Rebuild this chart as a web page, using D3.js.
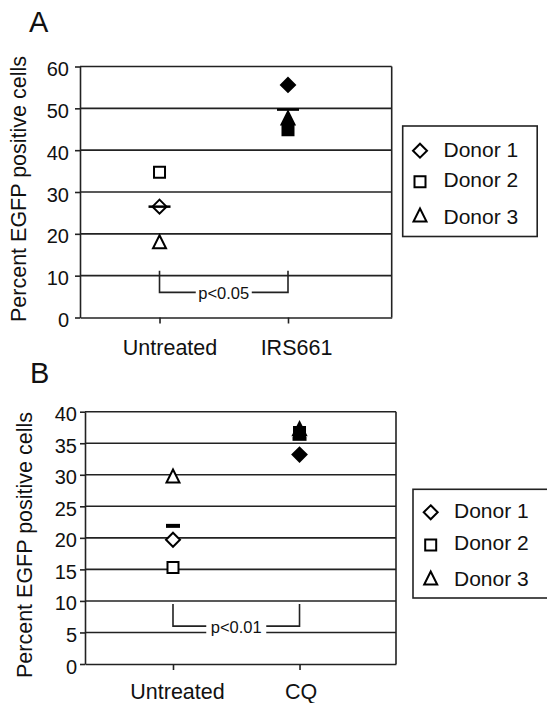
<!DOCTYPE html>
<html>
<head>
<meta charset="utf-8">
<script src="https://cdn.jsdelivr.net/npm/d3@7"></script>
<style>
  body { margin: 0; background: #fff; }
  text { font-family: "Liberation Sans", Arial, sans-serif; fill: #111; }
</style>
</head>
<body>
<script>
// data
var donors = ["Donor 1", "Donor 2", "Donor 3"];

var categoriesA = ["Untreated", "IRS661"];
var untreatedA = [26.5, 34.7, 18.1];
var irs661A = [55.6, 44.9, 47.7];
var meansA = [26.5, 49.7];
var ticksA = [0, 10, 20, 30, 40, 50, 60];

var categoriesB = ["Untreated", "CQ"];
var untreatedB = [19.7, 15.3, 29.8];
var cqB = [33.2, 36.7, 37.3];
var meansB = [21.9, 35.7];
var ticksB = [0, 5, 10, 15, 20, 25, 30, 35, 40];

var pvalA = {top: 11.2, bottom: 6, label: "p<0.05"};
var pvalB = {top: 9.5, bottom: 6, label: "p<0.01"};

var width = 547, height = 703;

var svg = d3.select("body")
    .append("svg")
    .attr("width", width)
    .attr("height", height);

// custom marker shapes, size = half width
var diamond = {draw: function (c, s) {
    c.moveTo(0, -s); c.lineTo(s, 0); c.lineTo(0, s); c.lineTo(-s, 0); c.closePath();
}};
var square = {draw: function (c, s) {
    c.rect(-s, -s, 2 * s, 2 * s);
}};
var triangle = {draw: function (c, s) {
    c.moveTo(0, -s); c.lineTo(s, s); c.lineTo(-s, s); c.closePath();
}};
var shapes = [diamond, square, triangle];
var shapeSize = [7, 5.5, 6.5];

function symbolPath(j) {
    return d3.symbol().type(shapes[j]).size(shapeSize[j])();
}

function drawPanel(cfg) {
    var g = svg.append("g");

    var x = d3.scalePoint()
        .domain(cfg.categories)
        .range([cfg.left, cfg.right])
        .padding(cfg.pad)
        .align(cfg.align);

    var y = d3.scaleLinear()
        .domain([0, d3.max(cfg.ticks)])
        .range([cfg.bottom, cfg.top]);

    // horizontal grid lines
    g.selectAll("line.grid")
        .data(cfg.ticks.filter(function (t) { return t > 0; }))
        .join("line")
        .attr("class", "grid")
        .attr("x1", cfg.left)
        .attr("x2", cfg.right)
        .attr("y1", function (d) { return y(d); })
        .attr("y2", function (d) { return y(d); })
        .attr("stroke", "#222")
        .attr("stroke-width", 1.6);

    // right border of the plot box
    g.append("line")
        .attr("x1", cfg.right).attr("x2", cfg.right)
        .attr("y1", y(0)).attr("y2", y(d3.max(cfg.ticks)))
        .attr("stroke", "#222")
        .attr("stroke-width", 1.6);

    var yAxis = d3.axisLeft(y)
        .tickValues(cfg.ticks)
        .tickSize(5)
        .tickSizeOuter(0)
        .tickPadding(cfg.yPad);

    var yg = g.append("g")
        .attr("transform", "translate(" + cfg.left + ",0)")
        .call(yAxis);
    yg.selectAll("text")
        .attr("font-size", 20)
        .attr("dy", "0.45em")
        .style("font-family", "Liberation Sans, Arial, sans-serif");

    var xAxis = d3.axisBottom(x)
        .tickSize(6)
        .tickSizeOuter(0)
        .tickPadding(cfg.xPad);

    var xg = g.append("g")
        .attr("transform", "translate(0," + cfg.bottom + ")")
        .call(xAxis);
    xg.selectAll("text")
        .attr("font-size", 21.5)
        .attr("dx", function (d, i) { return cfg.labelDx[i]; })
        .style("font-family", "Liberation Sans, Arial, sans-serif");

    g.selectAll(".domain, .tick line")
        .attr("stroke", "#222")
        .attr("stroke-width", 1.6);
    g.selectAll(".tick text").attr("fill", "#111");

    // y title
    g.append("text")
        .attr("transform", "translate(" + cfg.titleX + "," + cfg.titleY + ") rotate(-90)")
        .attr("text-anchor", "middle")
        .attr("font-size", 21.5)
        .text("Percent EGFP positive cells");

    // panel letter
    g.append("text")
        .attr("x", cfg.letterX)
        .attr("y", cfg.letterY)
        .attr("font-size", 29)
        .text(cfg.letter);

    // significance bracket
    var p = cfg.pval;
    var xa = x(cfg.categories[0]), xb = x(cfg.categories[1]);
    g.append("path")
        .attr("d", "M" + xa + "," + y(p.top) + "V" + y(p.bottom) + "H" + xb + "V" + y(p.top))
        .attr("fill", "none")
        .attr("stroke", "#222")
        .attr("stroke-width", 1.6);
    g.append("rect")
        .attr("x", (xa + xb) / 2 - cfg.pBoxW / 2)
        .attr("y", y(p.bottom) - 10)
        .attr("width", cfg.pBoxW)
        .attr("height", 20)
        .attr("fill", "#fff");
    g.append("text")
        .attr("x", (xa + xb) / 2)
        .attr("y", y(p.bottom) + 6.5)
        .attr("text-anchor", "middle")
        .attr("font-size", 16.5)
        .attr("fill", "#333")
        .text(p.label);

    // data points
    var points = [];
    cfg.series.forEach(function (vals, i) {
        vals.forEach(function (v, j) {
            points.push({cat: cfg.categories[i], donor: j, value: v, filled: i === 1});
        });
    });

    g.selectAll("path.pt")
        .data(points)
        .join("path")
        .attr("class", "pt")
        .attr("d", function (d) { return symbolPath(d.donor); })
        .attr("transform", function (d) { return "translate(" + x(d.cat) + "," + y(d.value) + ")"; })
        .attr("fill", function (d) { return d.filled ? "#000" : "#fff"; })
        .attr("stroke", "#000")
        .attr("stroke-width", 2);

    // mean bars
    g.selectAll("line.mean")
        .data(cfg.means)
        .join("line")
        .attr("class", "mean")
        .attr("x1", function (d, i) { return x(cfg.categories[i]) - cfg.meanW / 2; })
        .attr("x2", function (d, i) { return x(cfg.categories[i]) + cfg.meanW / 2; })
        .attr("y1", function (d) { return y(d); })
        .attr("y2", function (d) { return y(d); })
        .attr("stroke", "#000")
        .attr("stroke-width", cfg.meanH);

    // legend
    var lg = cfg.legend;
    g.append("rect")
        .attr("x", lg.x).attr("y", lg.y)
        .attr("width", lg.w).attr("height", lg.h)
        .attr("fill", "#fff")
        .attr("stroke", "#222")
        .attr("stroke-width", 1.6);

    var items = g.selectAll("g.leg")
        .data(donors)
        .join("g")
        .attr("class", "leg");
    items.append("path")
        .attr("d", function (d, j) { return symbolPath(j); })
        .attr("transform", function (d, j) { return "translate(" + lg.markX + "," + lg.markY[j] + ")"; })
        .attr("fill", "#fff")
        .attr("stroke", "#000")
        .attr("stroke-width", 2);
    items.append("text")
        .attr("x", lg.textX)
        .attr("y", function (d, j) { return lg.textY[j]; })
        .attr("font-size", 21)
        .text(function (d) { return d; });
}

drawPanel({
    letter: "A", letterX: 29, letterY: 32,
    categories: categoriesA,
    series: [untreatedA, irs661A],
    means: meansA,
    ticks: ticksA,
    pval: pvalA,
    left: 80, right: 391.7, top: 66.5, bottom: 317.5,
    pad: 0.713, align: 0.434,
    yPad: 6, xPad: 16, labelDx: [10, 8],
    titleX: 26, titleY: 189,
    meanW: 22, meanH: 2.5,
    pBoxW: 56,
    legend: {x: 402.7, y: 126, w: 134.5, h: 110.5, markX: 420,
             markY: [150.7, 181.7, 215], textX: 443.5, textY: [156.5, 187.3, 224]}
});

drawPanel({
    letter: "B", letterX: 30, letterY: 383,
    categories: categoriesB,
    series: [untreatedB, cqB],
    means: meansB,
    ticks: ticksB,
    pval: pvalB,
    left: 85, right: 396, top: 411.7, bottom: 664,
    pad: 0.729, align: 0.477,
    yPad: 3, xPad: 13.5, labelDx: [4, 1],
    titleX: 32, titleY: 545,
    meanW: 14, meanH: 4,
    pBoxW: 60,
    legend: {x: 413, y: 489.3, w: 140, h: 108.7, markX: 430.7,
             markY: [512.3, 545, 578], textX: 454, textY: [518.3, 550, 586]}
});
</script>
</body>
</html>
